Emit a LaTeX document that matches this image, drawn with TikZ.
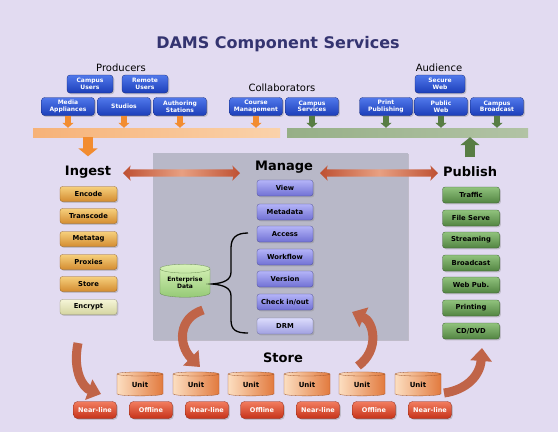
\documentclass[tikz,border=0pt]{standalone}
\usepackage{fontspec}
\setmainfont{DejaVu Sans}
\usetikzlibrary{shapes.geometric,shapes.arrows,shadows,arrows.meta}
\definecolor{bgc}{RGB}{226,219,241}
\definecolor{titlec}{RGB}{52,52,112}
\definecolor{blueT}{RGB}{80,120,235}
\definecolor{blueB}{RGB}{28,62,185}
\definecolor{blueD}{RGB}{20,40,120}
\definecolor{goldT}{RGB}{246,208,125}
\definecolor{goldB}{RGB}{212,140,48}
\definecolor{encT}{RGB}{245,245,215}
\definecolor{encB}{RGB}{212,212,160}
\definecolor{manT}{RGB}{180,180,248}
\definecolor{manB}{RGB}{112,112,212}
\definecolor{drmT}{RGB}{220,220,252}
\definecolor{drmB}{RGB}{160,160,225}
\definecolor{pubT}{RGB}{145,195,125}
\definecolor{pubB}{RGB}{82,132,66}
\definecolor{panelc}{RGB}{184,184,200}
\definecolor{obarL}{RGB}{246,178,120}
\definecolor{obarR}{RGB}{250,210,170}
\definecolor{gbarL}{RGB}{150,175,135}
\definecolor{gbarR}{RGB}{178,195,165}
\definecolor{oarr}{RGB}{242,140,48}
\definecolor{garr}{RGB}{88,125,68}
\definecolor{brn}{RGB}{192,100,72}
\definecolor{brnD}{RGB}{190,80,50}
\definecolor{brnL}{RGB}{232,160,130}
\definecolor{unitL}{RGB}{252,222,192}
\definecolor{unitR}{RGB}{226,122,62}
\definecolor{nlT}{RGB}{242,125,95}
\definecolor{nlB}{RGB}{198,50,25}
\definecolor{entT}{RGB}{215,242,185}
\definecolor{entB}{RGB}{150,202,118}
\tikzset{
  shd/.style={drop shadow={shadow xshift=1.3pt,shadow yshift=-1.3pt,opacity=0.35}},
  bluebox/.style={shd, rounded corners=3pt, top color=blueT, bottom color=blueB, draw=blueD, line width=0.3pt, text=white, font=\fontsize{6}{6.6}\selectfont\bfseries, align=center, minimum width=53pt, minimum height=18pt, inner sep=0pt},
  ingbox/.style={shd, rounded corners=2.5pt, top color=goldT, bottom color=goldB, draw=goldB!70!black, line width=0.3pt, font=\fontsize{6.8}{8}\selectfont\bfseries, minimum width=57pt, minimum height=15pt, inner sep=0pt},
  manbox/.style={shd, rounded corners=2.5pt, top color=manT, bottom color=manB, draw=manB!70!black, line width=0.3pt, font=\fontsize{6.8}{8}\selectfont\bfseries, minimum width=56pt, minimum height=16pt, inner sep=0pt},
  pubbox/.style={shd, rounded corners=2.5pt, top color=pubT, bottom color=pubB, draw=pubB!70!black, line width=0.3pt, font=\fontsize{6.8}{8}\selectfont\bfseries, minimum width=57pt, minimum height=16pt, inner sep=0pt},
  headlbl/.style={font=\fontsize{13}{14}\selectfont\bfseries},
  grplbl/.style={font=\fontsize{10}{11}\selectfont},
  stemarrow/.style={draw=#1, line width=6pt, -{Triangle[width=11pt,length=5pt]}},
  bigarrow/.style={draw=#1, line width=10pt, -{Triangle[width=19pt,length=8pt]}},
  curvarrow/.style={draw=brn, line width=9pt, -{Triangle[width=21pt,length=13pt]}},
  dblarrow/.style={double arrow, double arrow head extend=4pt, double arrow head indent=1pt, minimum height=#1, inner xsep=0pt, inner ysep=3.5pt, left color=brnD, right color=brnD, middle color=brnL},
  unitcyl/.style={cylinder, shape border rotate=90, aspect=0.25, minimum width=46pt, minimum height=24pt, draw=unitR!70!black, line width=0.3pt, left color=unitL, right color=unitR, font=\fontsize{7}{8}\selectfont\bfseries, inner sep=0pt},
  nlbox/.style={shd, rounded corners=4pt, top color=nlT, bottom color=nlB, draw=nlB!70!black, line width=0.3pt, text=white, font=\fontsize{6.5}{7}\selectfont\bfseries, minimum width=43pt, minimum height=17pt, inner sep=0pt},
}
\begin{document}
\begin{tikzpicture}[x=1pt,y=-1pt]
\fill[bgc] (0,0) rectangle (558,432);
\useasboundingbox (0,0) rectangle (558,432);

% title and group labels
\node[font=\fontsize{16}{18}\selectfont\bfseries, text=titlec] (title) at (278,44) {DAMS Component Services};
\node[grplbl] (producers) at (121,68) {Producers};
\node[grplbl] (collab) at (282,88) {Collaborators};
\node[grplbl] (audience) at (439,68) {Audience};

% bars
\node[minimum width=247pt, minimum height=9pt, inner sep=0pt, left color=obarL, right color=obarR] (ob) at (156.5,132.5) {};
\node[minimum width=241pt, minimum height=9pt, inner sep=0pt, left color=gbarL, right color=gbarR] (gb) at (407.5,132.5) {};

% blue boxes
\node[bluebox, minimum width=46pt] (cu) at (90,84) {Campus\\Users};
\node[bluebox, minimum width=46pt] (ru) at (145,84) {Remote\\Users};
\node[bluebox] (mapp) at (68,106.5) {Media\\Appliances};
\node[bluebox] (stud) at (124,106.5) {Studios};
\node[bluebox] (auth) at (180,106.5) {Authoring\\Stations};
\node[bluebox] (cm) at (256,106.5) {Course\\Management};
\node[bluebox] (cs) at (312,106.5) {Campus\\Services};
\node[bluebox] (pp) at (386,106.5) {Print\\Publishing};
\node[bluebox, minimum width=50pt] (sw) at (440,84) {Secure\\Web};
\node[bluebox] (pw) at (441,106.5) {Public\\Web};
\node[bluebox] (cb) at (497,106.5) {Campus\\Broadcast};

\foreach \n in {mapp,stud,auth,cm}
  \draw[stemarrow=oarr] (\n.south) -- (\n.south |- ob.north);
\foreach \n in {cs,pp,pw,cb}
  \draw[stemarrow=garr] (\n.south) -- (\n.south |- gb.north);

% manage panel
\node[shd, fill=panelc, minimum width=255pt, minimum height=187pt, inner sep=0pt] (panel) at (280.5,246.5) {};

% headings
\node[headlbl] (ingest) at (88,172) {Ingest};
\node[headlbl] (manage) at (284,167) {Manage};
\node[headlbl] (publish) at (470,172) {Publish};
\node[headlbl] (store) at (283,358) {Store};

\draw[bigarrow=oarr, shorten >=6pt] (ob.south -| ingest.north) -- (ingest.north);
\draw[bigarrow=garr, shorten <=6pt] (publish.north) -- (publish.north |- gb.south);

\node[dblarrow=117pt] (dl) at (181.5,173) {};
\node[dblarrow=118pt] (dr) at (379,173) {};

% ingest boxes
\node[ingbox] (enc) at (88.5,194) {Encode};
\node[ingbox] (trc) at (88.5,216) {Transcode};
\node[ingbox] (mtg) at (88.5,239) {Metatag};
\node[ingbox] (prx) at (88.5,262) {Proxies};
\node[ingbox] (sto) at (88.5,284) {Store};
\node[ingbox, top color=encT, bottom color=encB, draw=encB!70!black] (ecr) at (88.5,307) {Encrypt};

% manage boxes
\node[manbox] (view) at (285,188) {View};
\node[manbox] (meta) at (285,212) {Metadata};
\node[manbox] (acc) at (285,234) {Access};
\node[manbox] (wf) at (285,257) {Workflow};
\node[manbox] (ver) at (285,279) {Version};
\node[manbox] (cio) at (285,302) {Check in/out};
\node[manbox, top color=drmT, bottom color=drmB, draw=drmB!70!black] (drm) at (285,326) {DRM};

% publish boxes
\node[pubbox] (traf) at (471,195) {Traffic};
\node[pubbox] (fs) at (471,218) {File Serve};
\node[pubbox] (strm) at (471,240) {Streaming};
\node[pubbox] (bc) at (471,263) {Broadcast};
\node[pubbox] (wp) at (471,285) {Web Pub.};
\node[pubbox] (prt) at (471,308) {Printing};
\node[pubbox] (cd) at (471,331) {CD/DVD};

% enterprise data + brace
\node[cylinder, shape border rotate=90, aspect=0.25, minimum width=50pt, minimum height=33pt, draw=entB!70!black, line width=0.3pt, top color=entT, bottom color=entB, font=\fontsize{6}{7}\selectfont\bfseries, align=center, inner sep=0pt] (ent) at (185,283) {Enterprise\\Data};
\coordinate (brt) at (248,233);
\coordinate (brb) at (248,333);
\coordinate (brtip) at (212,284);
\draw[line width=1.3pt] (brt) .. controls (236,233) and (231,238) .. (231,248) -- (231,272)
  .. controls (231,280) and (224,283) .. (brtip)
  .. controls (224,285) and (231,288) .. (231,296) -- (231,320)
  .. controls (231,330) and (236,333) .. (brb);

% storage units
\foreach \x [count=\i] in {140,196,251,307,362,418}
  \node[unitcyl] (u\i) at (\x,385) {Unit};
\foreach \x/\t [count=\i] in {95/Near-line,151/Offline,207/Near-line,262/Offline,318/Near-line,374/Offline,430/Near-line}
  \node[nlbox] (s\i) at (\x,410) {\t};

% curved arrows
\coordinate (a1s) at (78,343);  \coordinate (a1e) at (101,394);
\coordinate (a2s) at (203,310); \coordinate (a2e) at (200,367);
\coordinate (a3s) at (358,366); \coordinate (a3e) at (352,312);
\coordinate (a4s) at (444,393); \coordinate (a4e) at (482,348);
\draw[curvarrow] (a1s) .. controls (72,372) and (84,388) .. (a1e);
\draw[curvarrow] (a2s) .. controls (178,318) and (178,345) .. (a2e);
\draw[curvarrow] (a3s) .. controls (380,350) and (374,322) .. (a3e);
\draw[curvarrow] (a4s) .. controls (466,390) and (480,376) .. (a4e);
\end{tikzpicture}
\end{document}
